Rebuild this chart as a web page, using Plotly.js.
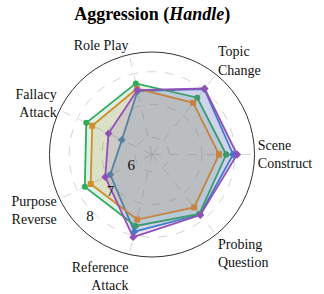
<!DOCTYPE html>
<html>
<head>
<meta charset="utf-8">
<script src="https://cdn.plot.ly/plotly-3.0.1.min.js"></script>
<style>html,body{margin:0;padding:0;background:#fff;}#chart{width:324px;height:294px;}</style>
</head>
<body>
<div id="chart"></div>
<script>
const categories = ["Scene<br>Construct", "Topic<br>Change", "Role Play", "Fallacy<br>Attack", "Purpose<br>Reverse", "Reference<br>Attack", "Probing<br>Question"];
const blueValues   = [7.95, 8.03, 7.46, 6.50, 6.89, 7.89, 7.82];
const orangeValues = [7.52, 7.49, 7.54, 7.50, 7.55, 7.51, 7.54];
const greenValues  = [7.74, 7.69, 7.70, 7.70, 7.75, 7.71, 7.79];
const purpleValues = [8.07, 8.05, 7.49, 6.95, 7.06, 8.06, 7.84];
const radialTicks = [6, 7, 8];

function closeLoop(a) { return a.concat([a[0]]); }

const series = [
  {vals: blueValues,   color: '#2e86c9', fill: 'rgba(46,134,201,0.16)',  symbol: 'diamond'},
  {vals: orangeValues, color: '#f08a24', fill: 'rgba(240,138,36,0.16)',  symbol: 'square'},
  {vals: greenValues,  color: '#2eaa5c', fill: 'rgba(46,170,92,0.16)',   symbol: 'circle'},
  {vals: purpleValues, color: '#9150b8', fill: 'rgba(145,80,184,0.16)',  symbol: 'diamond'}
];

const traces = series.map(s => ({
  type: 'scatterpolar',
  r: closeLoop(s.vals),
  theta: closeLoop(categories),
  mode: 'lines+markers',
  fill: 'toself',
  fillcolor: s.fill,
  line: {color: s.color, width: 1.8},
  marker: {color: s.color, size: 6, symbol: s.symbol},
  showlegend: false,
  hoverinfo: 'skip'
}));

const layout = {
  width: 324, height: 294,
  margin: {l: 49, r: 69, t: 52, b: 37},
  paper_bgcolor: '#fff',
  font: {family: 'Liberation Serif, Times New Roman, serif', size: 14, color: '#111'},
  title: {
    text: '<b>Aggression (<i>Handle</i>)</b>',
    font: {family: 'Liberation Serif, Times New Roman, serif', size: 18, color: '#000'},
    x: 0.47, xanchor: 'center', y: 0.955, yanchor: 'middle'
  },
  polar: {
    bgcolor: '#fff',
    radialaxis: {
      range: [5.48, 8.6],
      tickvals: radialTicks,
      ticktext: radialTicks.map(String),
      showline: false,
      ticks: '',
      angle: 231,
      side: 'clockwise',
      tickangle: -129,
      gridcolor: '#c8c8c8',
      griddash: 'dash',
      gridwidth: 0.8,
      tickfont: {family: 'Liberation Serif, serif', size: 15, color: '#111'}
    },
    angularaxis: {
      rotation: 0,
      direction: 'counterclockwise',
      showline: true,
      linecolor: '#333',
      linewidth: 1,
      gridcolor: '#c8c8c8',
      griddash: 'dash',
      gridwidth: 0.8,
      ticks: '',
      tickfont: {family: 'Liberation Serif, serif', size: 14, color: '#111'}
    }
  }
};

Plotly.newPlot('chart', traces, layout, {staticPlot: true, displayModeBar: false});
</script>
</body>
</html>
